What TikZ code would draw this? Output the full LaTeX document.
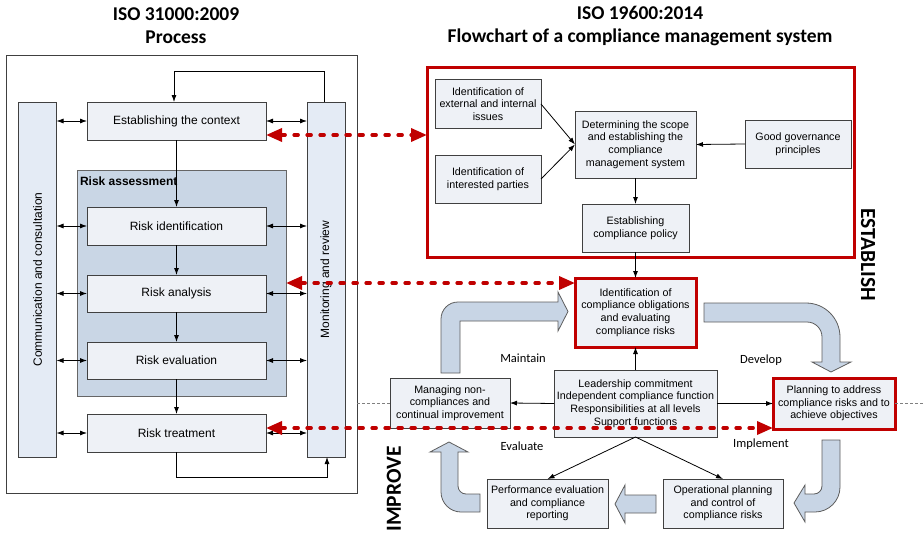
\documentclass[tikz,border=0pt]{standalone}
\usepackage{fontspec}
\usepackage{graphicx}
\setmainfont{Liberation Sans}
\newfontfamily\calfont{Carlito}
\usetikzlibrary{arrows.meta,calc}
\definecolor{boxfill}{HTML}{EEF1F6}
\definecolor{barfill}{HTML}{E4EBF5}
\definecolor{groupfill}{HTML}{C9D6E5}
\definecolor{flowfill}{HTML}{C8D5E5}
\definecolor{edge}{HTML}{404040}
\definecolor{cmsred}{HTML}{C00000}
\begin{document}
\begin{tikzpicture}[x=1pt,y=-1pt,
  every node/.style={inner sep=0pt, outer sep=0pt},
  pbox/.style={draw=edge, line width=1pt, fill=boxfill, rectangle, align=center,
    font=\fontsize{12}{14}\selectfont},
  cbox/.style={draw=edge, line width=1pt, fill=boxfill, rectangle, align=center,
    font=\fontsize{10.7}{12.6}\selectfont},
  redbox/.style={cbox, draw=cmsred, line width=3pt},
  bar/.style={draw=edge, line width=1pt, fill=barfill, rectangle,
    font=\fontsize{12}{14}\selectfont, minimum width=38pt, minimum height=355pt},
  group/.style={draw=edge!80, line width=1pt, fill=groupfill, rectangle},
  title/.style={font=\calfont\bfseries\fontsize{19.5}{23}\selectfont, align=center},
  phase/.style={font=\calfont\bfseries\fontsize{21.5}{24}\selectfont},
  steplabel/.style={font=\calfont\fontsize{12.5}{14}\selectfont},
  flow/.style={-{Latex[length=7pt,width=5pt]}, line width=0.8pt},
  both/.style={{Latex[length=7pt,width=5pt]}-{Latex[length=7pt,width=5pt]}, line width=0.8pt},
  link/.style={cmsred, line width=3.5pt, dash pattern=on 4pt off 9pt, line cap=round,
    {Triangle[length=16pt,width=13pt]}-{Triangle[length=16pt,width=13pt]}},
  guide/.style={gray, line width=0.6pt, dash pattern=on 3pt off 2pt},
  blockarrow/.style={fill=flowfill, draw=edge!85, line width=0.8pt, line join=miter}
]
\path[use as bounding box] (0,0) rectangle (924,535);

% ---------------- titles ----------------
\node[title] (t1) at (176,26) {ISO 31000:2009\\Process};
\node[title] (t2) at (640,26) {ISO 19600:2014\\Flowchart of a compliance management system};

% ---------------- ISO 31000 process ----------------
\node[draw=edge, line width=1pt, rectangle, minimum width=351pt, minimum height=437pt] (outer) at (181.5,274.5) {};
\node[group, minimum width=209pt, minimum height=226pt] (ra) at (181.5,283) {};
\node[anchor=west, font=\bfseries\fontsize{12}{14}\selectfont] (ralbl) at (80,181) {Risk assessment};

\node[bar] (comm) at (37.5,279.5) {\rotatebox{90}{Communication and consultation}};
\node[bar] (mon) at (326,279.5) {\rotatebox{90}{Monitoring and review}};

\node[pbox, minimum width=179pt, minimum height=38pt] (ctx) at (176.5,121) {Establishing the context};
\node[pbox, minimum width=179pt, minimum height=38pt] (rid) at (176.5,226) {Risk identification};
\node[pbox, minimum width=179pt, minimum height=37pt] (ran) at (176.5,293.5) {Risk analysis};
\node[pbox, minimum width=179pt, minimum height=37pt] (rev) at (176.5,360.5) {Risk evaluation};
\node[pbox, minimum width=179pt, minimum height=38pt] (trt) at (176.5,433) {Risk treatment};

\draw[flow] (ctx) -- (rid);
\draw[flow] (rid) -- (ran);
\draw[flow] (ran) -- (rev);
\draw[flow] (rev) -- (trt);

\foreach \b in {ctx,rid,ran,rev,trt}{
  \draw[both] (comm.east |- \b) -- (\b.west);
  \draw[both] (\b.east) -- (mon.west |- \b);
}

% feedback loops of monitoring and review
\coordinate (looptop) at (0,71);
\coordinate (loopbot) at (0,477);
\coordinate (monout) at ($(mon.north)+(-2,0)$);
\coordinate (ctxin) at ($(ctx.north)+(-2.5,0)$);
\coordinate (monin) at ($(mon.south)+(1,0)$);
\draw[flow] (monout) -- (monout |- looptop) -- (ctxin |- looptop) -- (ctxin);
\draw[flow] (trt.south) -- (trt.south |- loopbot) -- (monin |- loopbot) -- (monin);

% ---------------- ISO 19600 flowchart ----------------
\node[draw=cmsred, line width=3pt, rectangle, minimum width=427pt, minimum height=189pt] (est) at (640.5,162.5) {};
\node[phase, rotate=-90] (estlbl) at (868,255) {ESTABLISH};
\node[phase, rotate=90] (implbl) at (394,489) {IMPROVE};

\node[cbox, minimum width=106pt, minimum height=48pt] (iss) at (488,104) {Identification of\\external and internal\\issues};
\node[cbox, minimum width=106pt, minimum height=48pt] (par) at (488,179) {Identification of\\interested parties};
\node[cbox, minimum width=121pt, minimum height=67pt] (scope) at (635.5,144.5) {Determining the scope\\and establishing the\\compliance\\management system};
\node[cbox, minimum width=106pt, minimum height=48pt] (gov) at (798,144) {Good governance\\principles};
\node[cbox, minimum width=107pt, minimum height=48pt] (pol) at (635.5,228) {Establishing\\compliance policy};

\node[redbox, minimum width=121pt, minimum height=69pt] (obl) at (635.5,312.5) {Identification of\\compliance obligations\\and evaluating\\compliance risks};
\node[cbox, minimum width=163pt, minimum height=67pt] (lead) at (635.5,403.5) {Leadership commitment\\Independent compliance function\\Responsibilities at all levels\\Support functions};
\node[cbox, minimum width=120pt, minimum height=50pt] (mng) at (450,403) {Managing non-\\compliances and\\continual improvement};
\node[redbox, minimum width=122pt, minimum height=51pt] (plan) at (834,403.5) {Planning to address\\compliance risks and to\\achieve objectives};
\node[cbox, minimum width=121pt, minimum height=49pt] (perf) at (547.5,503.5) {Performance evaluation\\and compliance\\reporting};
\node[cbox, minimum width=120pt, minimum height=49pt] (oper) at (723,503.5) {Operational planning\\and control of\\compliance risks};

\draw[flow] (iss.east) -- (scope.west);
\draw[flow] (par.east) -- (scope.west);
\draw[flow] (gov.west) -- (scope.east);
\draw[flow] (scope.south) -- (pol.north);
\draw[flow] (pol.south) -- (obl.north);
\draw[flow] (lead.north) -- (obl.south);
\draw[flow] (lead.west) -- (mng.east);
\draw[flow] (lead.east) -- (plan.west);
\draw[flow] (lead.south) -- (perf.north);
\draw[flow] (lead.south) -- (oper.north);

\coordinate (rim) at (924,403.5);
\draw[guide] (outer.east |- mng.west) -- (mng.west);
\draw[guide] (plan.east) -- (rim);

\node[steplabel] (maintain) at (523,358) {Maintain};
\node[steplabel] (develop) at (761,360) {Develop};
\node[steplabel] (evaluate) at (522,446) {Evaluate};
\node[steplabel] (implement) at (761,444) {Implement};

% cycle of block arrows
\draw[blockarrow] (441,373) -- (441,319) .. controls (441,309.6) and (448.6,302) .. (458,302)
  -- (558,302) -- (558,292) -- (568,311.5) -- (558,331) -- (558,321) -- (460,321) -- (460,373) -- cycle;
\draw[blockarrow] (704,303) -- (806,303) .. controls (824.8,303) and (840,318.2) .. (840,337)
  -- (840,362) -- (851,362) -- (831,372) -- (812,362) -- (822,362) -- (822,337)
  .. controls (822,328.7) and (815.3,322) .. (807,322) -- (704,322) -- cycle;
\draw[blockarrow] (822,440) -- (840,440) -- (840,487) .. controls (840,500.8) and (828.8,512) .. (815,512)
  -- (805,512) -- (805,522) -- (794,503) -- (805,485) -- (805,494) -- (814,494)
  .. controls (818.4,494) and (822,490.4) .. (822,486) -- cycle;
\draw[blockarrow] (656,495) -- (625,495) -- (625,485) -- (615,504) -- (625,523) -- (625,513) -- (656,513) -- cycle;
\draw[blockarrow] (480,494) -- (466,494) .. controls (461.6,494) and (458,490.4) .. (458,486)
  -- (458,452) -- (468,452) -- (449,442) -- (430,452) -- (441,452) -- (441,492)
  .. controls (441,503) and (450,512) .. (461,512) -- (480,512) -- cycle;

% ---------------- correspondences between the two standards ----------------
\coordinate (l1) at (0,135);
\coordinate (l2) at (0,283);
\coordinate (l3) at (0,428);
\draw[link] (ctx.east |- l1) -- (est.west |- l1);
\draw[link] (ra.east |- l2) -- (obl.west |- l2);
\draw[link] (trt.east |- l3) -- (plan.west |- l3);
\end{tikzpicture}
\end{document}
